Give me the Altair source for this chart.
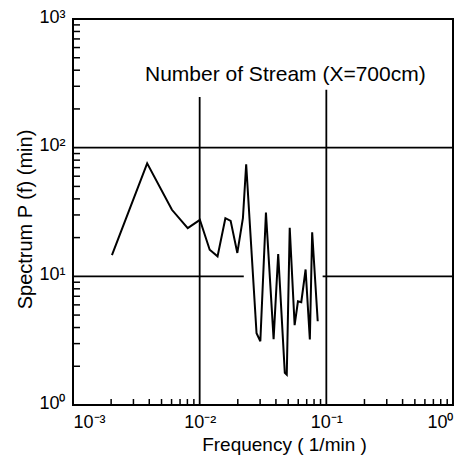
import altair as alt
import pandas as pd

# Spectrum data
freq = [0.00203, 0.00385, 0.00604, 0.00805, 0.01004, 0.0120, 0.01384, 0.01596,
        0.01756, 0.01983, 0.02195, 0.02329, 0.02812, 0.03013, 0.03336, 0.03834,
        0.04168, 0.0470, 0.0487, 0.0514, 0.0562, 0.0597, 0.0634, 0.0686,
        0.0741, 0.0773, 0.0855]
power = [14.6, 75.5, 32.9, 23.7, 27.5, 16.1, 14.3, 28.3,
         27.0, 15.2, 28.3, 74.3, 3.61, 3.13, 31.3, 3.25,
         14.9, 1.78, 1.72, 23.8, 4.17, 6.4, 6.3, 11.3,
         3.23, 22.0, 4.48]

# grid segments (broken where text / data cross)
hgrid_y = [10, 10, 100]
hgrid_x1 = [0.001, 0.0935, 0.001]
hgrid_x2 = [0.0223, 1.0, 1.0]
vgrid_x = [0.01, 0.1]
vgrid_y1 = [1, 1]
vgrid_y2 = [248, 282]

# minor tick positions
x_minor = [2e-3, 3e-3, 4e-3, 5e-3, 6e-3, 7e-3, 8e-3, 9e-3,
           2e-2, 3e-2, 4e-2, 5e-2, 6e-2, 7e-2, 8e-2, 9e-2,
           0.2, 0.3, 0.4, 0.5, 0.6, 0.7, 0.8, 0.9]
y_minor = [2, 3, 4, 5, 6, 7, 8, 9,
           20, 30, 40, 50, 60, 70, 80, 90,
           200, 300, 400, 500, 600, 700, 800, 900]

x_ticks = [0.001, 0.01, 0.1, 1.0]
y_ticks = [1, 10, 100, 1000]

FONT = "Liberation Sans"
W, H = 380, 386

xscale = alt.Scale(type="log", domain=[0.001, 1.0], nice=False, zero=False)
yscale = alt.Scale(type="log", domain=[1, 1000], nice=False, zero=False)

xlab = ("datum.value < 0.005 ? '10⁻³' : datum.value < 0.05 ? '10⁻²' : "
        "datum.value < 0.5 ? '10⁻¹' : '10⁰'")
ylab = ("datum.value < 5 ? '10⁰' : datum.value < 50 ? '10¹' : "
        "datum.value < 500 ? '10²' : '10³'")

df = pd.DataFrame({"f": freq, "p": power})

line = alt.Chart(df).mark_line(color="black", strokeWidth=2, clip=True).encode(
    x=alt.X("f:Q", scale=xscale,
            axis=alt.Axis(values=x_ticks, labelExpr=xlab, grid=False, ticks=False,
                          domain=False, labelFont=FONT, labelFontSize=18,
                          labelPadding=8, labelColor="black",
                          title="Frequency ( 1/min )", titleFont=FONT,
                          titleFontSize=19, titleFontWeight="normal",
                          titleColor="black", titleX=211, titleY=39,
                          titleAlign="center", titleBaseline="middle")),
    y=alt.Y("p:Q", scale=yscale,
            axis=alt.Axis(values=y_ticks, labelExpr=ylab, grid=False, ticks=False,
                          domain=False, labelFont=FONT, labelFontSize=18,
                          labelPadding=8, labelColor="black", labelOffset=-2,
                          labelBaseline="middle",
                          title="Spectrum P (f) (min)", titleFont=FONT,
                          titleFontSize=20, titleFontWeight="normal",
                          titleColor="black", titleX=-48, titleY=200,
                          titleAngle=270, titleAlign="center",
                          titleBaseline="middle")),
    order=alt.Order("f:Q"),
)

hg = alt.Chart(pd.DataFrame({"y": hgrid_y, "x1": hgrid_x1, "x2": hgrid_x2})).mark_rule(
    color="black", strokeWidth=1.8).encode(
    x=alt.X("x1:Q", scale=xscale), x2="x2:Q", y=alt.Y("y:Q", scale=yscale))

vg = alt.Chart(pd.DataFrame({"x": vgrid_x, "y1": vgrid_y1, "y2": vgrid_y2})).mark_rule(
    color="black", strokeWidth=1.8).encode(
    x=alt.X("x:Q", scale=xscale), y=alt.Y("y1:Q", scale=yscale), y2="y2:Q")

xt = alt.Chart(pd.DataFrame({"x": x_minor})).mark_rule(
    color="black", strokeWidth=1.5).encode(
    x=alt.X("x:Q", scale=xscale), y=alt.value(H), y2=alt.value(H - 6))

yt = alt.Chart(pd.DataFrame({"y": y_minor})).mark_rule(
    color="black", strokeWidth=1.5).encode(
    y=alt.Y("y:Q", scale=yscale), x=alt.value(0), x2=alt.value(7))

label = alt.Chart(pd.DataFrame({"t": ["Number of Stream (X=700cm)"]})).mark_text(
    font=FONT, fontSize=21, color="black", align="left", baseline="middle").encode(
    text="t:N", x=alt.value(72), y=alt.value(56))

chart = alt.layer(hg, vg, xt, yt, line, label).properties(
    width=W, height=H,
    autosize=alt.AutoSizeParams(type="none"),
    padding={"left": 65, "top": 11, "right": 12, "bottom": 50},
    background="white",
).configure_view(stroke="black", strokeWidth=2)

chart.save("out.html", embed_options={"renderer": "svg", "actions": False})
